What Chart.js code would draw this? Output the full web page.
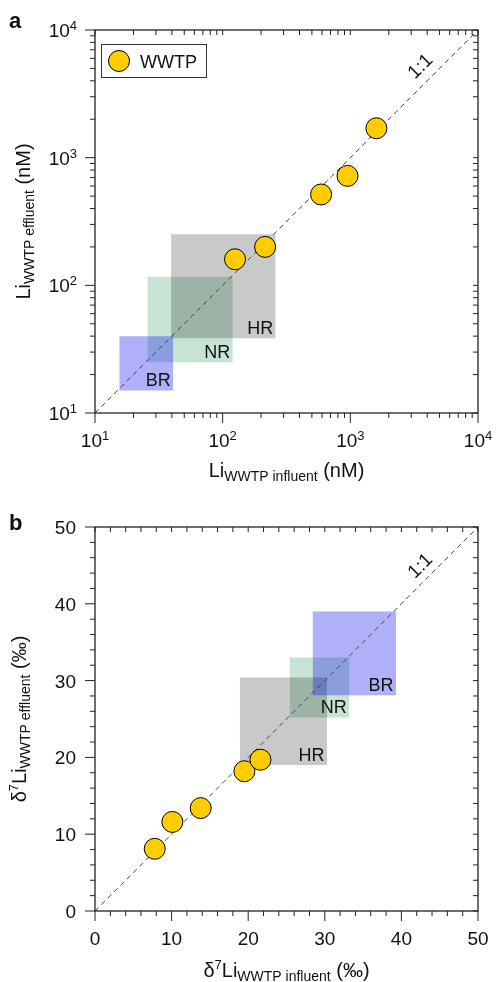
<!DOCTYPE html>
<html>
<head>
<meta charset="utf-8">
<script src="https://cdn.jsdelivr.net/npm/chart.js@4.4.1/dist/chart.umd.min.js"></script>
<style>
  body { margin: 0; background: #fff; }
  canvas { display: block; }
</style>
</head>
<body>
<canvas id="concChart" width="496" height="491"></canvas>
<canvas id="isoChart" width="496" height="491"></canvas>
<script>
// panel a: Li concentration (nM)
const influentConc = [125, 215, 590, 950, 1600];
const effluentConc = [160, 200, 515, 720, 1700];
const regionNames = ['BR', 'NR', 'HR'];
const concX0 = [15.5, 25.7, 39.4];
const concX1 = [41, 120, 260];
const concY0 = [15, 25, 38.5];
const concY1 = [40, 117, 251];
const concExponents = [1, 2, 3, 4];

// panel b: d7Li (permil)
const influentD7 = [7.8, 10.1, 13.8, 19.5, 21.6];
const effluentD7 = [8.1, 11.6, 13.4, 18.2, 19.7];
const isoX0 = [28.4, 25.4, 18.9];
const isoX1 = [39.3, 33.2, 30.3];
const isoY0 = [28.1, 25.2, 19.0];
const isoY1 = [39.0, 33.0, 30.4];
const isoTicks = [0, 10, 20, 30, 40, 50];

const regionColors = ['rgba(0,0,240,0.31)', 'rgba(0,128,60,0.22)', 'rgba(0,0,0,0.21)'];
const regionOrder = [2, 4, 3];
const F = '"Liberation Sans", Arial, Helvetica, sans-serif';

function rich(ctx, parts, x, y, align) {
  let w = 0;
  parts.forEach(p => { ctx.font = p.font; p.w = ctx.measureText(p.t).width; w += p.w; });
  let cx = align === 'center' ? x - w / 2 : align === 'right' ? x - w : x;
  ctx.textAlign = 'left';
  parts.forEach(p => { ctx.font = p.font; ctx.fillText(p.t, cx, y + (p.dy || 0)); cx += p.w; });
}

function regionSets(x0, x1, y0, y1) {
  return regionNames.map((n, i) => ({
    type: 'line',
    label: n,
    data: [{ x: x0[i], y: y1[i] }, { x: x1[i], y: y1[i] }],
    fill: { value: y0[i] },
    backgroundColor: regionColors[i],
    borderColor: 'transparent',
    borderWidth: 0,
    pointRadius: 0,
    order: regionOrder[i]
  }));
}

function pointSet(xs, ys) {
  return {
    type: 'scatter',
    label: 'WWTP',
    data: xs.map((x, i) => ({ x: x, y: ys[i] })),
    backgroundColor: '#ffcc00',
    borderColor: '#000',
    borderWidth: 1,
    pointRadius: 10.5,
    order: 0
  };
}

function oneToOne(lo, hi) {
  return {
    type: 'line',
    data: [{ x: lo, y: lo }, { x: hi, y: hi }],
    borderColor: '#444',
    borderWidth: 1,
    borderDash: [5, 4],
    pointRadius: 0,
    fill: false,
    order: 1
  };
}

function decorPlugin(cfg) {
  return {
    id: 'decor',
    afterDatasetsDraw(chart) {
      const ctx = chart.ctx, a = chart.chartArea;
      const xs = chart.scales.x, ys = chart.scales.y;
      ctx.save();
      ctx.fillStyle = '#111';
      ctx.textBaseline = 'alphabetic';
      // region labels
      ctx.font = '18px ' + F;
      regionNames.forEach((n, i) => {
        ctx.textAlign = 'right';
        ctx.fillText(n, xs.getPixelForValue(cfg.x1[i]) - 2.5, ys.getPixelForValue(cfg.y0[i]) - 4.5);
      });
      // 1:1 label
      ctx.save();
      ctx.translate(xs.getPixelForValue(cfg.lblPos[0]), ys.getPixelForValue(cfg.lblPos[1]));
      ctx.rotate(-Math.PI / 4);
      ctx.font = '19px ' + F;
      ctx.textAlign = 'center';
      ctx.textBaseline = 'middle';
      ctx.fillText('1:1', 0, 0);
      ctx.restore();
      ctx.textBaseline = 'alphabetic';
      // frame
      ctx.strokeStyle = '#222';
      ctx.lineWidth = 1.3;
      ctx.strokeRect(a.left, a.top, a.right - a.left, a.bottom - a.top);
      // ticks
      ctx.lineWidth = 1;
      ctx.beginPath();
      cfg.ticks.forEach(t => {
        const px = xs.getPixelForValue(t.v), py = ys.getPixelForValue(t.v);
        const out = t.major ? 10 : 5;
        ctx.moveTo(px, a.bottom); ctx.lineTo(px, a.bottom + out);
        ctx.moveTo(px, a.top); ctx.lineTo(px, a.top + 5);
        ctx.moveTo(a.left, py); ctx.lineTo(a.left - out, py);
        ctx.moveTo(a.right, py); ctx.lineTo(a.right - 5, py);
      });
      ctx.stroke();
      // tick labels
      cfg.labels.forEach(l => {
        const px = xs.getPixelForValue(l.v), py = ys.getPixelForValue(l.v);
        rich(ctx, l.parts(), px, a.bottom + 34, 'center');
        rich(ctx, l.parts(), cfg.yLabelRight, py + 7, 'right');
      });
      // axis titles
      rich(ctx, cfg.xTitle, (a.left + a.right) / 2, cfg.xTitleY, 'center');
      ctx.save();
      ctx.translate(cfg.yTitleX, (a.top + a.bottom) / 2);
      ctx.rotate(-Math.PI / 2);
      rich(ctx, cfg.yTitle, 0, 0, 'center');
      ctx.restore();
      // panel letter
      ctx.font = 'bold 22px ' + F;
      ctx.textAlign = 'left';
      ctx.fillText(cfg.letter, 9, cfg.letterY);
      // legend
      if (cfg.legend) {
        ctx.strokeStyle = '#333';
        ctx.lineWidth = 1;
        ctx.strokeRect(a.left + 6.5, a.top + 14.5, 105, 33);
        ctx.beginPath();
        ctx.arc(a.left + 24, a.top + 31, 10.5, 0, Math.PI * 2);
        ctx.fillStyle = '#ffcc00';
        ctx.fill();
        ctx.strokeStyle = '#000';
        ctx.stroke();
        ctx.fillStyle = '#111';
        ctx.font = '18px ' + F;
        ctx.fillText('WWTP', a.left + 45, a.top + 37.5);
      }
      ctx.restore();
    }
  };
}

function baseOptions(xType, min, max, pad) {
  return {
    responsive: false,
    animation: false,
    events: [],
    layout: { padding: pad },
    plugins: { legend: { display: false }, tooltip: { enabled: false } },
    scales: {
      x: { type: xType, min: min, max: max, display: false },
      y: { type: xType, min: min, max: max, display: false }
    }
  };
}

// tick lists
const logTicks = [];
concExponents.forEach(e => {
  const d = Math.pow(10, e);
  if (e < 4) { for (let m = 1; m <= 9; m++) logTicks.push({ v: m * d, major: m === 1 }); }
  else logTicks.push({ v: d, major: true });
});
const linTicks = [];
for (let v = 0; v <= 50; v += 2) linTicks.push({ v: v, major: isoTicks.includes(v) });

new Chart(document.getElementById('concChart'), {
  type: 'scatter',
  data: {
    datasets: [pointSet(influentConc, effluentConc), oneToOne(10, 10000)]
      .concat(regionSets(concX0, concX1, concY0, concY1))
  },
  options: baseOptions('logarithmic', 10, 10000, { left: 95, right: 18, top: 30, bottom: 78 }),
  plugins: [decorPlugin({
    x1: concX1, y0: concY0, lblPos: [3560, 5160],
    ticks: logTicks,
    labels: concExponents.map(e => ({
      v: Math.pow(10, e),
      parts: () => [{ t: '10', font: '19px ' + F }, { t: String(e), font: '13px ' + F, dy: -7 }]
    })),
    yLabelRight: 77,
    xTitle: [
      { t: 'Li', font: '20px ' + F },
      { t: 'WWTP influent', font: '14px ' + F, dy: 4 },
      { t: ' (nM)', font: '20px ' + F }
    ],
    xTitleY: 477,
    yTitle: [
      { t: 'Li', font: '20px ' + F },
      { t: 'WWTP effluent', font: '14px ' + F, dy: 4 },
      { t: ' (nM)', font: '20px ' + F }
    ],
    yTitleX: 30,
    letter: 'a', letterY: 28, legend: true
  })]
});

new Chart(document.getElementById('isoChart'), {
  type: 'scatter',
  data: {
    datasets: [pointSet(influentD7, effluentD7), oneToOne(0, 50)]
      .concat(regionSets(isoX0, isoX1, isoY0, isoY1))
  },
  options: baseOptions('linear', 0, 50, { left: 95, right: 18, top: 36, bottom: 71 }),
  plugins: [decorPlugin({
    x1: isoX1, y0: isoY0, lblPos: [42.5, 44.9],
    ticks: linTicks,
    labels: isoTicks.map(v => ({ v: v, parts: () => [{ t: String(v), font: '19px ' + F }] })),
    yLabelRight: 76,
    xTitle: [
      { t: 'δ', font: '20px ' + F },
      { t: '7', font: '13px ' + F, dy: -8 },
      { t: 'Li', font: '20px ' + F },
      { t: 'WWTP influent', font: '14px ' + F, dy: 4 },
      { t: ' (‰)', font: '20px ' + F }
    ],
    xTitleY: 486,
    yTitle: [
      { t: 'δ', font: '20px ' + F },
      { t: '7', font: '13px ' + F, dy: -8 },
      { t: 'Li', font: '20px ' + F },
      { t: 'WWTP effluent', font: '14px ' + F, dy: 4 },
      { t: ' (‰)', font: '20px ' + F }
    ],
    yTitleX: 26,
    letter: 'b', letterY: 39, legend: false
  })]
});
</script>
</body>
</html>
